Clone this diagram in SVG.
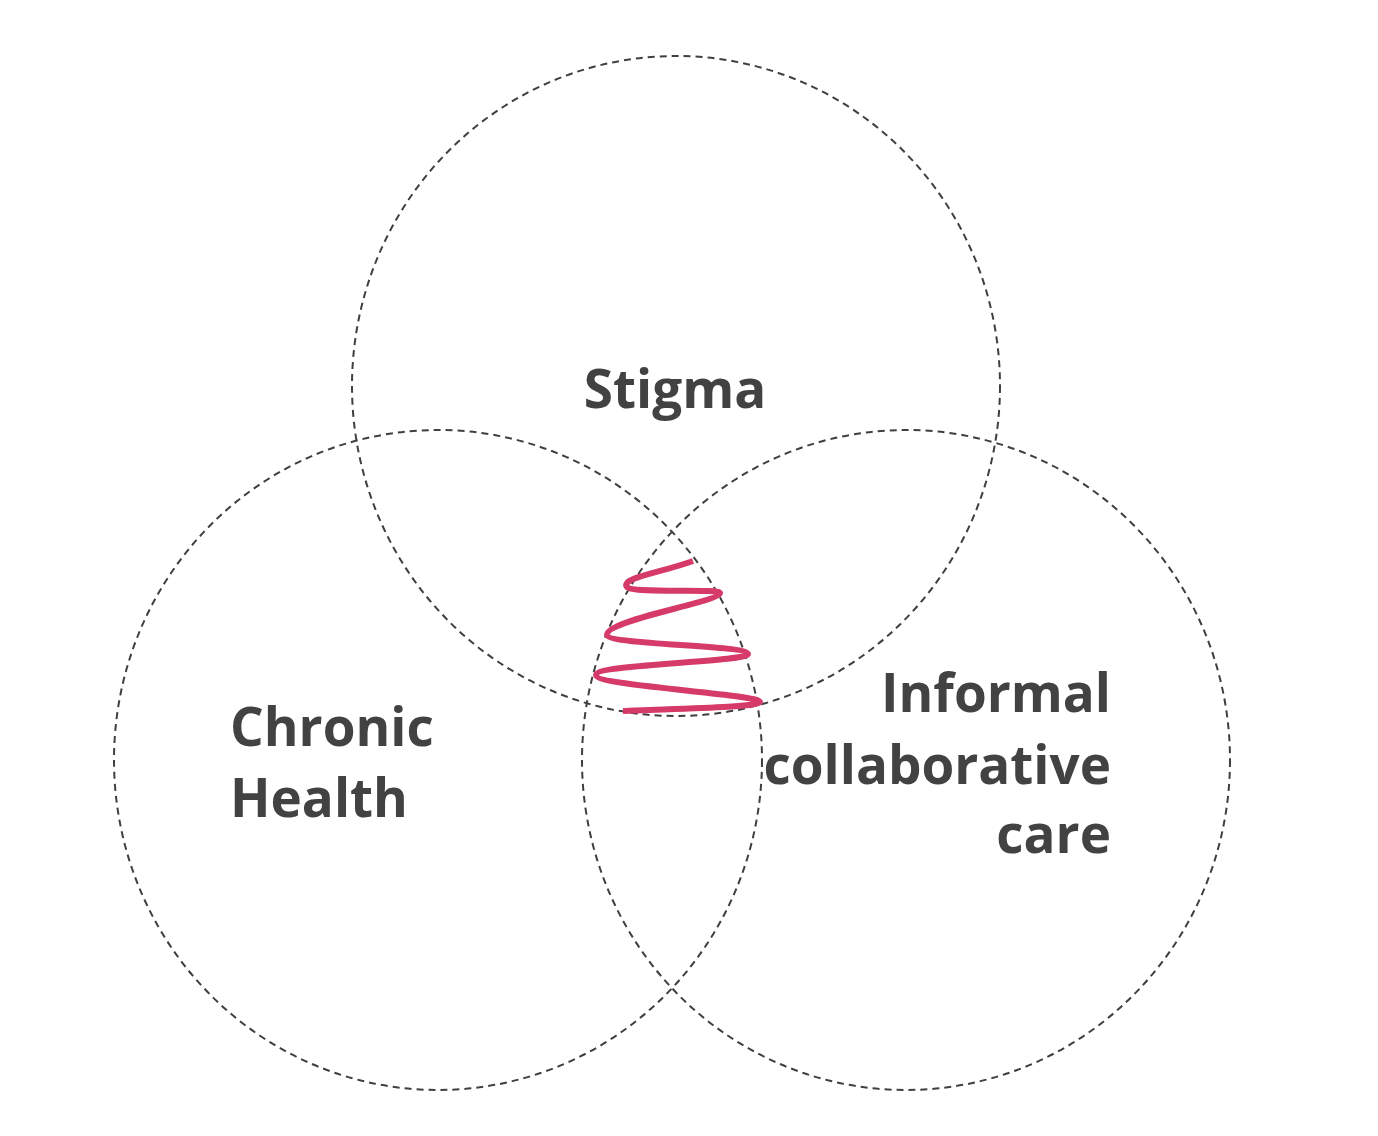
<svg xmlns="http://www.w3.org/2000/svg" width="1378" height="1136" viewBox="0 0 1378 1136">
<style>
.c{fill:none;stroke:#3f3f3f;stroke-width:2;stroke-dasharray:7 5}
.t{font-family:"Open Sans",Lato,sans-serif;font-weight:bold;font-size:53px;fill:#424242}
</style>
<rect width="1378" height="1136" fill="#ffffff"/>
<g id="stigma"><ellipse class="c" cx="676" cy="386" rx="324" ry="330"/><text class="t" x="675" y="408" text-anchor="middle">Stigma</text></g>
<g id="chronic-health"><ellipse class="c" cx="438" cy="760" rx="324" ry="330"/><text class="t" x="230" y="746">Chronic</text><text class="t" x="230" y="817">Health</text></g>
<g id="informal-care"><ellipse class="c" cx="906" cy="760" rx="324" ry="330"/><text class="t" x="1111" y="712" text-anchor="end">Informal</text><text class="t" x="1111" y="784" text-anchor="end">collaborative</text><text class="t" x="1111" y="853" text-anchor="end">care</text></g>
<g id="connectors"><path d="M693 561 C660 573 620 578 627 587 C633 594 720 588 720 593 C720 602 605 620 607 635 C609 645 748 645 748 654 C748 662 596 664 596 675 C596 686 760 694 760 702 C760 708 660 709 623 711" fill="none" stroke="#d63a68" stroke-width="6" stroke-linecap="butt" stroke-linejoin="round"/></g>
</svg>
